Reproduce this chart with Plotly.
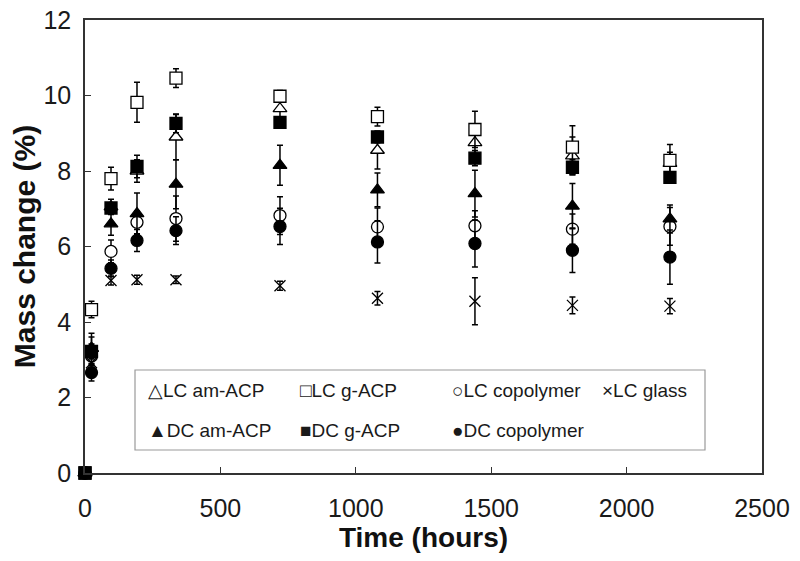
import plotly.graph_objects as go

# ---------------- data ----------------
time_h = [0, 24, 96, 192, 336, 720, 1080, 1440, 1800, 2160]

lc_am_acp = [0, 3.30, 7.05, 8.00, 8.90, 9.65, 8.55, 8.75, 8.40, 8.20]
lc_am_acp_err = [0, 0.30, 0.20, 0.30, 0.60, 0.30, 0.50, 0.40, 0.50, 0.30]

lc_g_acp = [0, 4.33, 7.80, 9.82, 10.46, 9.98, 9.44, 9.10, 8.63, 8.28]
lc_g_acp_err = [0, 0.22, 0.30, 0.53, 0.25, 0.15, 0.25, 0.48, 0.57, 0.42]

lc_copolymer = [0, 3.10, 5.87, 6.64, 6.74, 6.82, 6.52, 6.55, 6.46, 6.53]
lc_copolymer_err = [0, 0.25, 0.30, 0.30, 0.60, 0.50, 0.50, 0.40, 0.40, 0.50]

lc_glass = [0, 2.92, 5.10, 5.12, 5.12, 4.96, 4.63, 4.55, 4.44, 4.42]
lc_glass_err = [0, 0.12, 0.12, 0.12, 0.10, 0.12, 0.18, 0.62, 0.22, 0.20]

dc_am_acp = [0, 3.30, 6.60, 6.87, 7.65, 8.15, 7.50, 7.40, 7.07, 6.73]
dc_am_acp_err = [0, 0.40, 0.30, 0.55, 0.65, 0.53, 0.45, 0.62, 0.60, 0.37]

dc_g_acp = [0, 3.22, 7.02, 8.12, 9.26, 9.29, 8.90, 8.34, 8.10, 7.83]
dc_g_acp_err = [0, 0.20, 0.12, 0.30, 0.25, 0.10, 0.15, 0.20, 0.20, 0.15]

dc_copolymer = [0, 2.66, 5.42, 6.16, 6.42, 6.53, 6.12, 6.08, 5.90, 5.72]
dc_copolymer_err = [0, 0.22, 0.22, 0.29, 0.37, 0.48, 0.56, 0.62, 0.59, 0.72]

x_ticks = [0, 500, 1000, 1500, 2000, 2500]
y_ticks = [0, 2, 4, 6, 8, 10, 12]

series = [
    ("LC am-ACP", lc_am_acp, lc_am_acp_err, "triangle-up", "white", "△"),
    ("LC g-ACP", lc_g_acp, lc_g_acp_err, "square", "white", "□"),
    ("LC copolymer", lc_copolymer, lc_copolymer_err, "circle", "white", "○"),
    ("LC glass", lc_glass, lc_glass_err, "x-thin", "black", "×"),
    ("DC am-ACP", dc_am_acp, dc_am_acp_err, "triangle-up", "black", "▲"),
    ("DC g-ACP", dc_g_acp, dc_g_acp_err, "square", "black", "■"),
    ("DC copolymer", dc_copolymer, dc_copolymer_err, "circle", "black", "●"),
]

FONT = "Liberation Sans, Arial, Helvetica, sans-serif"

fig = go.Figure()
for name, vals, errs, sym, fill, glyph in series:
    size = 12
    if sym == "x-thin":
        size = 11
    fig.add_trace(go.Scatter(
        x=time_h, y=vals, name=name, mode="markers",
        marker=dict(symbol=sym, size=size, color=fill,
                    line=dict(color="black", width=1.3)),
        error_y=dict(type="data", array=errs, visible=True,
                     color="black", thickness=1.5, width=3),
        cliponaxis=False, showlegend=False,
    ))

# plot area in page pixels (page has 8px body margin)
OFF = 8
L, R, T, B = 85, 762, 20, 473
def px_x(p):
    return (p - L) / (R - L)
def px_y(p):
    return (B - p) / (B - T)

fig.add_shape(type="rect", xref="paper", yref="paper",
              x0=px_x(135), x1=px_x(705), y0=px_y(450), y1=px_y(370),
              line=dict(color="#9a9a9a", width=1.2), fillcolor="white", layer="above")

col_left = [146, 298, 450, 600]
row_mid = [390, 430]
for i, (name, vals, errs, sym, fill, glyph) in enumerate(series):
    r, c = (0, i) if i < 4 else (1, i - 4)
    fig.add_annotation(xref="paper", yref="paper", x=px_x(col_left[c]), y=px_y(row_mid[r]),
                       xanchor="left", yanchor="middle", showarrow=False,
                       text=glyph + name, font=dict(family=FONT, size=19, color="#1a1a1a"))

W, H = 800, 561
fig.update_layout(
    width=W, height=H,
    margin=dict(l=L - OFF, r=W - (R - OFF), t=T - OFF, b=H - (B - OFF), pad=0),
    paper_bgcolor="white", plot_bgcolor="white",
    font=dict(family=FONT, color="#1a1a1a"),
    showlegend=False,
)
fig.update_xaxes(
    range=[0, 2500], tickvals=x_ticks, ticktext=[str(v) for v in x_ticks],
    automargin=False, ticklabeloverflow="allow",
    showgrid=False, zeroline=False, showline=True, linecolor="#333", linewidth=1.5,
    mirror=True, ticks="inside", ticklen=6, tickcolor="#333", tickwidth=1,
    tickfont=dict(family=FONT, size=25, color="#1a1a1a"), ticklabelstandoff=12,
    title=dict(text="Time (hours)", standoff=6,
               font=dict(family=FONT, size=28, color="#111", weight="bold")),
)
fig.update_yaxes(
    range=[0, 12], tickvals=y_ticks, ticktext=[str(v) for v in y_ticks],
    automargin=False, ticklabeloverflow="allow",
    showgrid=False, zeroline=False, showline=True, linecolor="#333", linewidth=1.5,
    mirror=True, ticks="inside", ticklen=6, tickcolor="#333", tickwidth=1,
    tickfont=dict(family=FONT, size=25, color="#1a1a1a"), ticklabelstandoff=7,
    title=dict(text="Mass change (%)", standoff=8,
               font=dict(family=FONT, size=30, color="#111", weight="bold")),
)

fig.write_html("out.html")
